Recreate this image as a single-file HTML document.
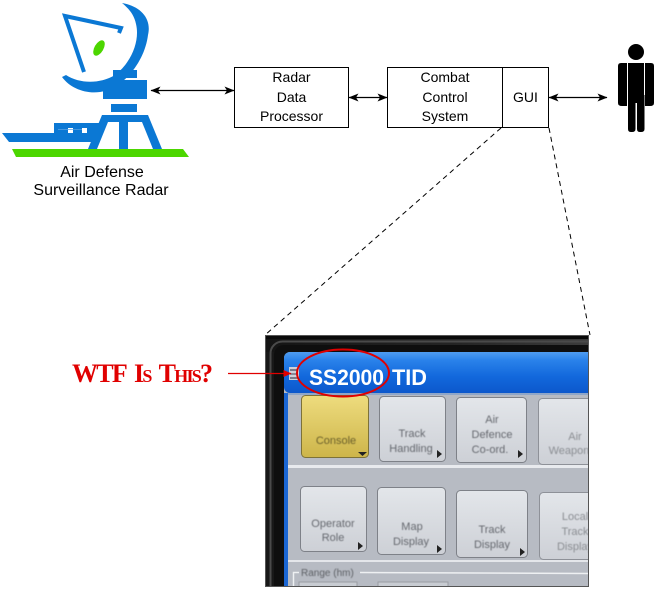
<!DOCTYPE html>
<html>
<head>
<meta charset="utf-8">
<style>
  html,body{margin:0;padding:0;background:#fff;width:655px;height:590px;overflow:hidden;}
  svg{display:block;overflow:hidden;}
</style>
</head>
<body>
<svg width="655" height="590" viewBox="0 0 655 590" xmlns="http://www.w3.org/2000/svg" font-family="'Liberation Sans', sans-serif">
  <defs>
    <marker id="ah" markerWidth="10" markerHeight="8" refX="9.5" refY="4" orient="auto-start-reverse" markerUnits="userSpaceOnUse">
      <path d="M0,0 L10,4 L0,8 L2.5,4 Z" fill="#000"/>
    </marker>
    <marker id="rh" markerWidth="8" markerHeight="7" refX="7.5" refY="3.5" orient="auto" markerUnits="userSpaceOnUse">
      <path d="M0,0 L8,3.5 L0,7 Z" fill="#e00000"/>
    </marker>
    <clipPath id="photo"><rect x="265" y="335" width="324" height="252"/></clipPath>
    <filter id="soft" x="-10%" y="-10%" width="120%" height="120%"><feGaussianBlur stdDeviation="0.45"/></filter>
    <linearGradient id="title" x1="0" y1="0" x2="0" y2="1">
      <stop offset="0" stop-color="#4f9cf0"/>
      <stop offset="0.2" stop-color="#2a82ea"/>
      <stop offset="0.6" stop-color="#1268dc"/>
      <stop offset="1" stop-color="#0c58cc"/>
    </linearGradient>
    <linearGradient id="btn" x1="0" y1="0" x2="0" y2="1">
      <stop offset="0" stop-color="#e3e6ea"/>
      <stop offset="1" stop-color="#cdd0d6"/>
    </linearGradient>
    <linearGradient id="ybtn" x1="0" y1="0" x2="0" y2="1">
      <stop offset="0" stop-color="#eedc7e"/>
      <stop offset="1" stop-color="#cdb54a"/>
    </linearGradient>
    <linearGradient id="topband" x1="0" y1="0" x2="1" y2="0">
      <stop offset="0" stop-color="#141414"/>
      <stop offset="0.6" stop-color="#252525"/>
      <stop offset="1" stop-color="#3c3c3c"/>
    </linearGradient>
  </defs>

  <!-- ===== Radar icon ===== -->
  <g fill="#0b78d4">
    <path d="M122,3 C140,6 152,18 148,35 C145,60 125,88 100,92 C85,94 70,88 62,77 L66,75 C80,84 100,84 115,75 C132,62 140,40 136,24 C134,14 128,8 122,3 Z"/>
    <rect x="113" y="70" width="24" height="8"/>
    <rect x="103" y="80" width="44" height="19"/>
    <rect x="111" y="104" width="26" height="8"/>
    <polygon points="102,115 148,115 162,149 88,149"/>
    <polygon points="2,133 100,133 96,142 9,142"/>
    <rect x="54" y="123" width="46" height="10"/>
  </g>
  <polyline points="84,72 65,16 121,28 119,33" fill="none" stroke="#0b78d4" stroke-width="4"/>
  <ellipse cx="99" cy="48" rx="8.5" ry="4.5" transform="rotate(-60 99 48)" fill="#4cd600"/>
  <g fill="#fff">
    <polygon points="108,122 119,122 119,149 97,149"/>
    <polygon points="128,122 142,122 153,149 128,149"/>
    <rect x="68" y="128" width="5" height="5"/>
    <rect x="82" y="128" width="5" height="5"/>
  </g>
  <line x1="58" y1="129.5" x2="82" y2="129.5" stroke="#5aa3e6" stroke-width="0.8"/>
  <polygon points="12,149 183,149 189,157 16,157" fill="#4cd600"/>
  <text x="102" y="177" font-size="16" text-anchor="middle" fill="#000">Air Defense</text>
  <text x="101" y="195" font-size="16" text-anchor="middle" fill="#000">Surveillance Radar</text>

  <!-- ===== Boxes ===== -->
  <rect x="234.5" y="67.5" width="114" height="60" fill="#fff" stroke="#000" stroke-width="1"/>
  <g font-size="14" text-anchor="middle" fill="#000">
    <text x="291.5" y="82">Radar</text>
    <text x="291.5" y="102">Data</text>
    <text x="291.5" y="121">Processor</text>
  </g>
  <rect x="387.5" y="67.5" width="161" height="60" fill="#fff" stroke="#000" stroke-width="1"/>
  <line x1="502.5" y1="67.5" x2="502.5" y2="127.5" stroke="#000" stroke-width="1"/>
  <g font-size="14" text-anchor="middle" fill="#000">
    <text x="445" y="82">Combat</text>
    <text x="445" y="102">Control</text>
    <text x="445" y="121">System</text>
    <text x="525.5" y="102">GUI</text>
  </g>

  <!-- ===== Arrows ===== -->
  <line x1="151" y1="90.5" x2="234" y2="90.5" stroke="#000" stroke-width="1.3" marker-start="url(#ah)" marker-end="url(#ah)"/>
  <line x1="349" y1="97.5" x2="387" y2="97.5" stroke="#000" stroke-width="1.3" marker-start="url(#ah)" marker-end="url(#ah)"/>
  <line x1="549" y1="97.5" x2="607" y2="97.5" stroke="#000" stroke-width="1.3" marker-start="url(#ah)" marker-end="url(#ah)"/>

  <!-- ===== Person ===== -->
  <g fill="#000">
    <circle cx="636" cy="52" r="8"/>
    <path d="M621,63 L627,63 L627,106 L622,106 Q618,106 618,103 L618,66 Q618,63 621,63 Z"/>
    <path d="M651,63 L645,63 L645,106 L650,106 Q654,106 654,103 L654,66 Q654,63 651,63 Z"/>
    <rect x="628" y="63" width="16" height="40"/>
    <path d="M628,95 L635.5,95 L635.5,129 Q635.5,132 632,132 L631,132 Q628,132 628,129 Z"/>
    <path d="M637,95 L644.5,95 L644.5,129 Q644.5,132 641,132 L640,132 Q637,132 637,129 Z"/>
  </g>

  <!-- ===== Dashed zoom lines ===== -->
  <line x1="501" y1="128" x2="265" y2="335" stroke="#000" stroke-width="1" stroke-dasharray="5,4"/>
  <line x1="549" y1="128" x2="590" y2="335" stroke="#000" stroke-width="1" stroke-dasharray="5,4"/>

  <!-- ===== Photo ===== -->
  <g clip-path="url(#photo)">
    <rect x="265" y="335" width="324" height="252" fill="#181818"/>
    <rect x="265" y="335" width="324" height="17" fill="url(#topband)"/>
    <rect x="265" y="335" width="324" height="4" fill="#0a0a0a"/>
    <rect x="270.5" y="341.5" width="330" height="260" rx="12" fill="none" stroke="#4a4a4a" stroke-width="2"/>
    <rect x="274" y="345" width="325" height="250" rx="10" fill="#0e0e0e"/>
    <rect x="284" y="352" width="310" height="240" rx="6" fill="#b7bbc3"/>
    <rect x="284" y="352" width="310" height="41" rx="6" fill="url(#title)"/>
    <rect x="284" y="393" width="4" height="195" fill="#1a66d4"/>
    <rect x="288" y="393" width="306" height="2" fill="#8fa6c8"/>
    <rect x="289" y="367" width="10" height="13" fill="#d0d0d8"/>
    <rect x="290" y="369" width="8" height="2" fill="#7a7a88"/>
    <rect x="290" y="373" width="8" height="2" fill="#8a8a96"/>
    <rect x="290" y="377" width="8" height="2" fill="#7a7a88"/>
    <text x="309" y="385" font-size="22" font-weight="bold" fill="#fff" textLength="75" lengthAdjust="spacingAndGlyphs">SS2000</text>
    <text x="392" y="385" font-size="22" font-weight="bold" fill="#fff" textLength="35" lengthAdjust="spacingAndGlyphs">TID</text>

    <rect x="288" y="465" width="306" height="3" fill="#e8eaee"/>
    <rect x="288" y="560" width="306" height="2" fill="#e4e6ea"/>

    <rect x="301.5" y="395.5" width="67" height="62" rx="4" fill="url(#ybtn)" stroke="#7d7238"/>
    <rect x="379.5" y="396.5" width="66" height="65" rx="4" fill="url(#btn)" stroke="#7e8188"/>
    <rect x="456.5" y="397.5" width="70" height="65" rx="4" fill="url(#btn)" stroke="#7e8188"/>
    <rect x="538.5" y="398.5" width="60" height="66" rx="4" fill="url(#btn)" stroke="#8e9198"/>
    <rect x="300.5" y="486.5" width="66" height="65" rx="4" fill="url(#btn)" stroke="#7e8188"/>
    <rect x="377.5" y="487.5" width="68" height="67" rx="4" fill="url(#btn)" stroke="#7e8188"/>
    <rect x="456.5" y="490.5" width="71" height="67" rx="4" fill="url(#btn)" stroke="#7e8188"/>
    <rect x="539.5" y="492.5" width="60" height="67" rx="4" fill="url(#btn)" stroke="#8e9198"/>

    <g font-size="11" fill="#65686e" text-anchor="middle" filter="url(#soft)">
      <text x="336" y="444" fill="#6a5f2a">Console</text>
      <text x="412" y="437">Track</text>
      <text x="411" y="452">Handling</text>
      <text x="492" y="423">Air</text>
      <text x="492" y="438">Defence</text>
      <text x="490" y="453">Co-ord.</text>
      <text x="575" y="440" fill="#8a8d92">Air</text>
      <text x="569" y="454" fill="#8a8d92">Weapon</text>
      <text x="333" y="527">Operator</text>
      <text x="333" y="541">Role</text>
      <text x="412" y="530">Map</text>
      <text x="411" y="545">Display</text>
      <text x="492" y="533">Track</text>
      <text x="492" y="548">Display</text>
      <text x="575" y="520" fill="#8a8d92">Local</text>
      <text x="575" y="535" fill="#8a8d92">Track</text>
      <text x="575" y="550" fill="#8a8d92">Display</text>
    </g>
    <g fill="#222">
      <polygon points="358,452 367,452 362.5,456"/>
      <polygon points="437,450 442,454 437,458"/>
      <polygon points="518,450 523,454 518,458"/>
      <polygon points="358,542 363,546 358,550"/>
      <polygon points="437,545 442,549 437,553"/>
      <polygon points="520,548 525,552 520,556"/>
    </g>
    <path d="M293.5,587 L293.5,572.5 L299,572.5" fill="none" stroke="#eef0f2" stroke-width="1.5"/>
    <line x1="360" y1="572.5" x2="589" y2="573.5" stroke="#eef0f2" stroke-width="1.5"/>
    <text x="301" y="576" font-size="10" fill="#5c5f64" filter="url(#soft)">Range (hm)</text>
    <rect x="299" y="582" width="58" height="5" fill="#c8ccd2" stroke="#9a9da3"/>
    <rect x="378" y="582" width="70" height="5" fill="#c8ccd2" stroke="#9a9da3"/>
  </g>
  <rect x="265.5" y="335.5" width="323" height="251" fill="none" stroke="#555" stroke-width="1"/>

  <ellipse cx="343" cy="373" rx="46" ry="23.5" fill="none" stroke="#e00000" stroke-width="2"/>
  <line x1="228" y1="373.5" x2="291" y2="373.5" stroke="#e00000" stroke-width="1.2" marker-end="url(#rh)"/>
  <text x="72" y="382" font-family="'Liberation Serif', serif" font-weight="bold" fill="#e00000" textLength="141" lengthAdjust="spacing"><tspan font-size="26">WTF</tspan><tspan font-size="26" dx="8">I</tspan><tspan font-size="18">S</tspan><tspan font-size="26" dx="8">T</tspan><tspan font-size="18">HIS</tspan><tspan font-size="26">?</tspan></text>
</svg>
</body>
</html>
